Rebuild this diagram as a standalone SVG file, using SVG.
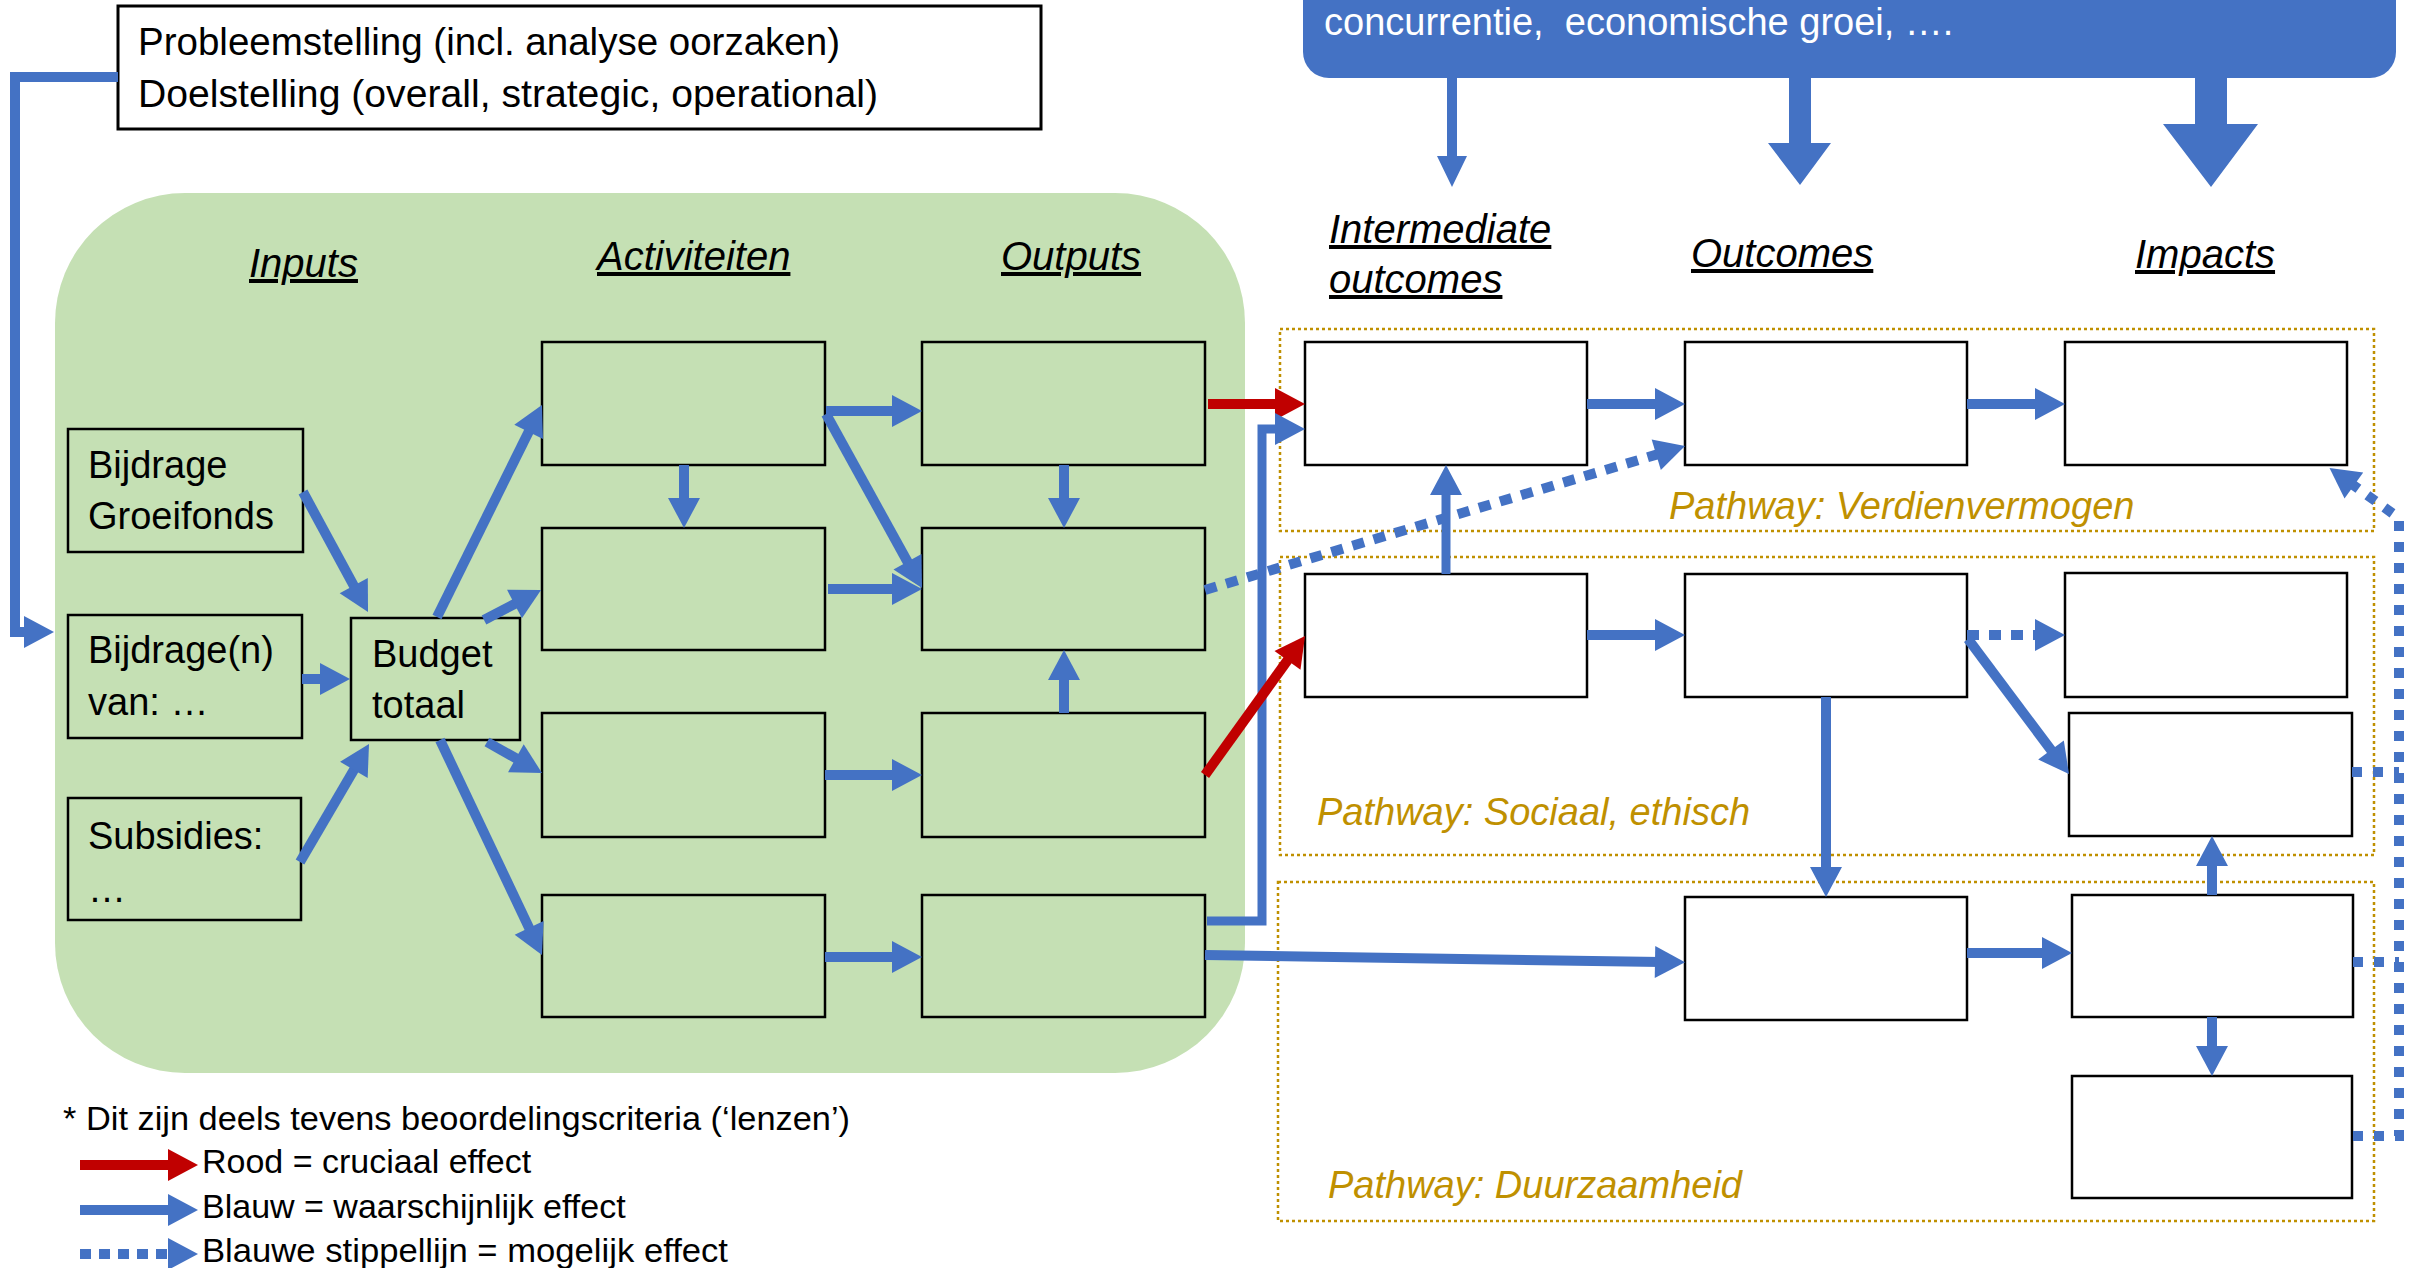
<svg xmlns="http://www.w3.org/2000/svg" width="2420" height="1268" viewBox="0 0 2420 1268">
<style>
text{font-family:"Liberation Sans",Arial,sans-serif;font-size:38px;fill:#000}
.h{font-style:italic;font-size:40px;text-decoration:underline}
.pw{font-style:italic;fill:#BF9000}
.lg{font-size:34px}
.gb{fill:#C5E0B4;stroke:#000;stroke-width:2.5}
.wb{fill:#fff;stroke:#000;stroke-width:2.5}
.pb{fill:none;stroke:#BF9000;stroke-width:2.5;stroke-dasharray:3 3}
.b{fill:none;stroke:#4472C4;stroke-width:10;marker-end:url(#ab)}
.r{fill:none;stroke:#C00000;stroke-width:10;marker-end:url(#ar)}
.d{fill:none;stroke:#4472C4;stroke-width:10;stroke-dasharray:12 10}
.dv{stroke-dasharray:10 11}
.dm{marker-end:url(#ab)}
.bf{fill:#4472C4}
</style>
<defs>
<marker id="ab" markerUnits="userSpaceOnUse" markerWidth="32" markerHeight="32" refX="6" refY="16" orient="auto" overflow="visible"><path d="M0,0 L30,16 L0,32 z" fill="#4472C4"/></marker>
<marker id="ar" markerUnits="userSpaceOnUse" markerWidth="32" markerHeight="32" refX="6" refY="16" orient="auto" overflow="visible"><path d="M0,0 L30,16 L0,32 z" fill="#C00000"/></marker>
</defs>
<rect width="2420" height="1268" fill="#fff"/>

<g id="context-area">
<rect x="55" y="193" width="1190" height="880" rx="130" fill="#C5E0B4"/>
</g>

<g id="pathways">
<rect class="pb" x="1280" y="329" width="1094" height="202"/>
<rect class="pb" x="1280" y="557" width="1094" height="298"/>
<rect class="pb" x="1278" y="882" width="1096" height="339"/>
<text class="pw" x="1669" y="519">Pathway: Verdienvermogen</text>
<text class="pw" x="1317" y="825">Pathway: Sociaal, ethisch</text>
<text class="pw" x="1328" y="1198">Pathway: Duurzaamheid</text>
</g>

<g id="context-box">
<rect x="1303" y="-60" width="1093" height="138" rx="26" fill="#4472C4"/>
<text x="1324" y="35" style="fill:#fff" xml:space="preserve">concurrentie,  economische groei, ….</text>
</g>

<g id="problem">
<rect x="118" y="6" width="923" height="123" fill="#fff" stroke="#000" stroke-width="3"/>
<text x="138" y="55" textLength="702" lengthAdjust="spacingAndGlyphs">Probleemstelling (incl. analyse oorzaken)</text>
<text x="138" y="107" textLength="740" lengthAdjust="spacingAndGlyphs">Doelstelling (overall, strategic, operational)</text>
</g>

<g id="headings">
<text class="h" x="249" y="277">Inputs</text>
<text class="h" x="597" y="270">Activiteiten</text>
<text class="h" x="1001" y="270">Outputs</text>
<text class="h" x="1329" y="243">Intermediate</text>
<text class="h" x="1329" y="293">outcomes</text>
<text class="h" x="1691" y="267">Outcomes</text>
<text class="h" x="2135" y="268">Impacts</text>
</g>

<g id="input-groeifonds"><rect class="gb" x="68" y="429" width="235" height="123"/><text x="88" y="478">Bijdrage</text><text x="88" y="529">Groeifonds</text></g>
<g id="input-bijdragen"><rect class="gb" x="68" y="615" width="234" height="123"/><text x="88" y="663">Bijdrage(n)</text><text x="88" y="715">van: …</text></g>
<g id="input-subsidies"><rect class="gb" x="68" y="798" width="233" height="122"/><text x="88" y="849">Subsidies:</text><text x="88" y="902">…</text></g>
<g id="budget"><rect class="gb" x="351" y="618" width="169" height="122"/><text x="372" y="667">Budget</text><text x="372" y="718">totaal</text></g>

<g id="act1"><rect class="gb" x="542" y="342" width="283" height="123"/></g>
<g id="act2"><rect class="gb" x="542" y="528" width="283" height="122"/></g>
<g id="act3"><rect class="gb" x="542" y="713" width="283" height="124"/></g>
<g id="act4"><rect class="gb" x="542" y="895" width="283" height="122"/></g>
<g id="out1"><rect class="gb" x="922" y="342" width="283" height="123"/></g>
<g id="out2"><rect class="gb" x="922" y="528" width="283" height="122"/></g>
<g id="out3"><rect class="gb" x="922" y="713" width="283" height="124"/></g>
<g id="out4"><rect class="gb" x="922" y="895" width="283" height="122"/></g>

<g id="io1"><rect class="wb" x="1305" y="342" width="282" height="123"/></g>
<g id="io2"><rect class="wb" x="1305" y="574" width="282" height="123"/></g>
<g id="oc1"><rect class="wb" x="1685" y="342" width="282" height="123"/></g>
<g id="oc2"><rect class="wb" x="1685" y="574" width="282" height="123"/></g>
<g id="oc3"><rect class="wb" x="1685" y="897" width="282" height="123"/></g>
<g id="im1"><rect class="wb" x="2065" y="342" width="282" height="123"/></g>
<g id="im2"><rect class="wb" x="2065" y="573" width="282" height="124"/></g>
<g id="im3"><rect class="wb" x="2069" y="713" width="283" height="123"/></g>
<g id="im4"><rect class="wb" x="2072" y="895" width="281" height="122"/></g>
<g id="im5"><rect class="wb" x="2072" y="1076" width="280" height="122"/></g>

<g id="connectors">
<path class="b" d="M118,77 H15 V632 H30"/>
<path class="b" d="M303,492 L356.6,590.9"/>
<path class="b" d="M302,679 H326"/>
<path class="b" d="M300,862 L356.9,764.7"/>
<path class="b" d="M437,617 L531.3,426.5"/>
<path class="b" d="M484,620 L519.8,601.2"/>
<path class="b" d="M487,742 L521.1,761.2"/>
<path class="b" d="M440,740 L531.7,933.3"/>
<path class="b" d="M684,465 V504"/>
<path class="b" d="M826,411 H898"/>
<path class="b" d="M826,414 L910.4,567"/>
<path class="b" d="M828,589 H898"/>
<path class="b" d="M1064,465 V504"/>
<path class="b" d="M1064,713 V674"/>
<path class="b" d="M825,775 H898"/>
<path class="b" d="M825,957 H898"/>
<path class="r" d="M1208,404 H1281"/>
<path class="b" d="M1207,921 H1262 V429 H1281" style="stroke-width:9"/>
<path class="r" d="M1205,775 L1291,655.5"/>
<path class="d dm" d="M1205,590 L1662,453"/>
<path class="b" d="M1205,955 L1661,962"/>
<path class="b" d="M1587,404 H1661"/>
<path class="b" d="M1967,404 H2041"/>
<path class="b" d="M1446,574 V489" style="stroke-width:9"/>
<path class="b" d="M1587,635 H1661"/>
<path class="d dm" d="M1967,635 H2041"/>
<path class="b" d="M1968,639 L2054.6,754.8"/>
<path class="b" d="M1826,697 V873"/>
<path class="b" d="M1967,953 H2048"/>
<path class="b" d="M2212,895 V860"/>
<path class="b" d="M2212,1017 V1052"/>
<path class="d dv dm" d="M2353,1136 H2399 V518 L2349,482"/>
<path class="d dv" d="M2352,772 H2399"/>
<path class="d dv" d="M2353,962 H2399"/>
<polygon class="bf" points="1447,78 1457,78 1457,156 1467,156 1452,187 1437,156 1447,156"/>
<polygon class="bf" points="1789,78 1811,78 1811,143 1831,143 1800,185 1768,143 1789,143"/>
<polygon class="bf" points="2195,78 2227,78 2227,124 2258,124 2211,187 2163,124 2195,124"/>
</g>

<g id="legend">
<text class="lg" x="63" y="1130" textLength="787" lengthAdjust="spacingAndGlyphs">* Dit zijn deels tevens beoordelingscriteria (‘lenzen’)</text>
<path class="r" d="M80,1165 H174"/>
<text class="lg" x="202" y="1173">Rood = cruciaal effect</text>
<path class="b" d="M80,1210 H174"/>
<text class="lg" x="202" y="1218">Blauw = waarschijnlijk effect</text>
<path class="d dm" d="M80,1254 H174" style="stroke-dasharray:11 8"/>
<text class="lg" x="202" y="1262" textLength="526" lengthAdjust="spacingAndGlyphs">Blauwe stippellijn = mogelijk effect</text>
</g>
</svg>
